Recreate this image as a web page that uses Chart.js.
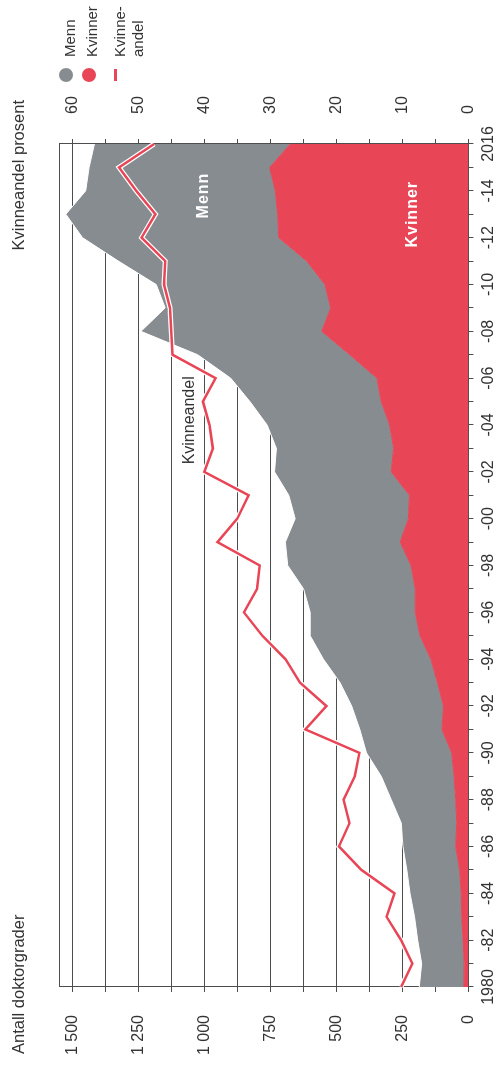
<!DOCTYPE html>
<html lang="no">
<head>
<meta charset="UTF-8">
<title>Doktorgrader etter kjønn</title>
<script src="https://cdn.jsdelivr.net/npm/chart.js"></script>
<style>
  body { margin: 0; overflow: hidden; background: #fff; font-family: "Liberation Sans", Arial, sans-serif; color: #333; }
  /* chart is laid out landscape and turned a quarter turn to fit the tall window */
  #wrap { position: absolute; left: 0; top: 0; width: 1067px; height: 503px;
          transform-origin: 0 0; transform: translateY(1067px) rotate(-90deg); }
  canvas { position: absolute; left: 0; top: 0; }
  .t { position: absolute; top: 9px; font-size: 16.5px; line-height: 18px; white-space: nowrap; }
  .leg { position: absolute; left: 1010px; font-size: 15px; line-height: 18px; white-space: nowrap; }
  .dot { position: absolute; left: 985px; width: 14px; height: 14px; border-radius: 50%; }
  .bar { position: absolute; left: 986px; width: 12px; height: 3px; }
</style>
</head>
<body>
<div id="wrap">
  <canvas id="chart" width="1067" height="503"></canvas>
  <div class="t" style="left:13px">Antall doktorgrader</div>
  <div class="t" style="right:100px">Kvinneandel prosent</div>
  <div class="dot" id="dotMenn" style="top:59px"></div>
  <div class="dot" id="dotKvinner" style="top:82px"></div>
  <div class="bar" id="barAndel" style="top:114px"></div>
  <div class="leg" style="top:61px">Menn</div>
  <div class="leg" style="top:83px">Kvinner</div>
  <div class="leg" style="top:111px">Kvinne-<br>andel</div>
</div>
<script>
    const years = [1980, 1981, 1982, 1983, 1984, 1985, 1986, 1987, 1988, 1989,
                   1990, 1991, 1992, 1993, 1994, 1995, 1996, 1997, 1998, 1999,
                   2000, 2001, 2002, 2003, 2004, 2005, 2006, 2007, 2008, 2009,
                   2010, 2011, 2012, 2013, 2014, 2015, 2016];

    const kvinner = [17, 16, 20, 25, 27, 33, 48, 44, 48, 54,
                     63, 100, 94, 117, 142, 183, 201, 201, 217, 258,
                     227, 223, 292, 283, 298, 330, 346, 449, 555, 521,
                     543, 612, 718, 722, 731, 752, 674];

    const menn = [169, 161, 172, 179, 194, 200, 200, 210, 244, 276,
                  323, 311, 348, 369, 407, 416, 398, 423, 467, 435,
                  429, 457, 442, 444, 464, 497, 554, 576, 685, 627,
                  639, 713, 743, 802, 718, 684, 742];

    // per cent, read against the right axis
    const kvinneandel = [10.2, 8.5, 10.2, 12.4, 11.2, 16.2, 19.6, 18.0, 18.9, 17.2,
                         16.5, 24.7, 21.5, 25.5, 27.7, 31.2, 34.0, 32.0, 31.6, 38.0,
                         35.0, 33.3, 40.0, 38.7, 39.2, 40.2, 38.3, 44.8, 45.0, 45.2,
                         46.1, 45.9, 49.5, 47.4, 50.3, 52.9, 47.6];

    const countTicks = [0, 125, 250, 375, 500, 625, 750, 875, 1000, 1125, 1250, 1375, 1500];
    const pctTicks = [0, 5, 10, 15, 20, 25, 30, 35, 40, 45, 50, 55, 60];

    const GREY = '#878c91';
    const RED = '#e84657';
    const INK = '#333333';
    const RULE = '#4d4d4d';
    const FONT = '"Liberation Sans", Arial, sans-serif';

    document.getElementById('dotMenn').style.background = GREY;
    document.getElementById('dotKvinner').style.background = RED;
    document.getElementById('barAndel').style.background = RED;

    function fixTicks(values) {
        return function(axis) {
            axis.ticks = values.map(function(v) { return { value: v }; });
        };
    }

    function countLabel(v) {
        if (v % 250 !== 0) return '';
        if (v >= 1000) return Math.floor(v / 1000) + ' ' + String(v % 1000).padStart(3, '0');
        return String(v);
    }

    function yearLabel(y) {
        if (y % 2 !== 0) return '';
        if (y === years[0] || y === years[years.length - 1]) return String(y);
        return '-' + String(y).slice(2);
    }

    // text labels placed inside the plot, in data units (category index, count)
    const notes = [
        { text: 'Menn', at: 33.8, value: 1003, color: '#fff', bold: true },
        { text: 'Kvinner', at: 33.0, value: 210, color: '#fff', bold: true },
        { text: 'Kvinneandel', at: 24.2, value: 1056, color: INK, bold: false }
    ];

    const notesPlugin = {
        id: 'notes',
        afterDatasetsDraw: function(chart) {
            const ctx = chart.ctx;
            const xs = chart.scales.x, ys = chart.scales.y;
            ctx.save();
            ctx.textAlign = 'center';
            ctx.textBaseline = 'middle';
            notes.forEach(function(n) {
                ctx.font = (n.bold ? 'bold ' : '') + '16px ' + FONT;
                ctx.letterSpacing = n.bold ? '1px' : '0px';
                ctx.fillStyle = n.color;
                ctx.fillText(n.text, xs.getPixelForValue(n.at), ys.getPixelForValue(n.value));
            });
            ctx.restore();
        }
    };

    new Chart(document.getElementById('chart'), {
        type: 'line',
        data: {
            labels: years,
            datasets: [{
                label: 'Kvinneandel',
                data: kvinneandel,
                yAxisID: 'y1',
                borderColor: RED,
                borderWidth: 2.5,
                pointRadius: 0,
                tension: 0,
                fill: false,
                order: 0
            }, {
                label: 'kant',
                data: kvinneandel,
                yAxisID: 'y1',
                borderColor: '#ffffff',
                borderWidth: 5,
                pointRadius: 0,
                tension: 0,
                fill: false,
                order: 1
            }, {
                label: 'Kvinner',
                data: kvinner,
                yAxisID: 'y',
                borderColor: RED,
                backgroundColor: RED,
                borderWidth: 1,
                pointRadius: 0,
                tension: 0,
                fill: 'origin',
                order: 2
            }, {
                label: 'Menn',
                data: menn,
                yAxisID: 'y',
                borderColor: '#ffffff',
                backgroundColor: GREY,
                borderWidth: 1,
                pointRadius: 0,
                tension: 0,
                fill: '-1',
                order: 3
            }]
        },
        options: {
            responsive: false,
            animation: false,
            devicePixelRatio: 1,
            layout: { padding: 0 },
            plugins: {
                legend: { display: false },
                tooltip: { enabled: false }
            },
            scales: {
                x: {
                    type: 'category',
                    position: 'bottom',
                    offset: false,
                    grid: { drawOnChartArea: false, tickLength: 5, tickColor: RULE },
                    border: { display: true, color: RULE, width: 1 },
                    ticks: {
                        autoSkip: false,
                        maxRotation: 0,
                        minRotation: 0,
                        padding: 6,
                        color: INK,
                        font: { family: FONT, size: 16 },
                        callback: function(v, i) { return yearLabel(years[i]); }
                    },
                    afterFit: function(s) { s.height = 30; }
                },
                xTop: {
                    type: 'category',
                    position: 'top',
                    offset: false,
                    grid: { display: false },
                    ticks: { display: false },
                    border: { display: true, color: RULE, width: 1 },
                    afterFit: function(s) { s.height = 59; }
                },
                y: {
                    type: 'linear',
                    position: 'left',
                    stacked: true,
                    min: 0,
                    max: 1550,
                    afterBuildTicks: fixTicks(countTicks),
                    grid: { color: RULE, lineWidth: 1, tickLength: 5, tickColor: RULE },
                    border: { display: true, color: RULE, width: 1 },
                    ticks: {
                        padding: 23,
                        color: INK,
                        font: { family: FONT, size: 16 },
                        callback: function(v) { return countLabel(v); }
                    },
                    afterFit: function(s) { s.width = 80; }
                },
                y1: {
                    type: 'linear',
                    position: 'right',
                    min: 0,
                    max: 62,
                    afterBuildTicks: fixTicks(pctTicks),
                    grid: { drawOnChartArea: false, tickLength: 5, tickColor: RULE },
                    border: { display: true, color: RULE, width: 1 },
                    ticks: {
                        padding: 25,
                        color: INK,
                        font: { family: FONT, size: 16 },
                        callback: function(v) { return v % 10 === 0 ? String(v) : ''; }
                    },
                    afterFit: function(s) { s.width = 144; }
                }
            }
        },
        plugins: [notesPlugin]
    });
</script>
</body>
</html>
